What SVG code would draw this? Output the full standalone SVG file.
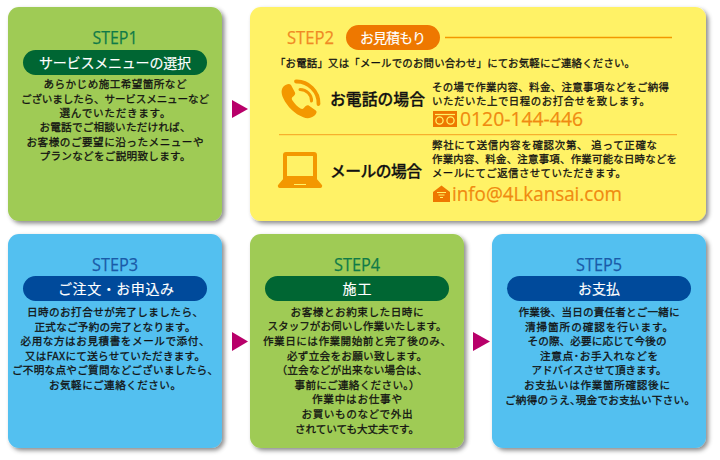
<svg xmlns="http://www.w3.org/2000/svg" width="720" height="460" viewBox="0 0 720 460">
<style>
.jp{font-family:"Noto Sans CJK JP","Noto Sans",sans-serif}
.body{font-size:10.6px;text-anchor:middle;fill:#111;stroke:#111;stroke-width:.28px}
.det{font-size:10.4px;fill:#111;stroke:#111;stroke-width:.28px}
.step{font-family:"Open Sans",sans-serif;font-size:19px;text-anchor:middle;stroke-width:.25px}
.pilltxt{font-size:14px;fill:#fff;text-anchor:middle;stroke:#fff;stroke-width:.15px}
.head{font-size:15.8px;fill:#111;font-weight:500;stroke:#111;stroke-width:.3px}
.big{font-family:"Open Sans",sans-serif;fill:#f08a10;stroke:#f08a10;stroke-width:.2px;font-size:20px}
.green{fill:#9fcb55}.blue{fill:#53c0f0}.yellow{fill:#fff266}
.dg{fill:#006633}.db{fill:#004a9b}
.tg{fill:#0f7a48;stroke:#0f7a48}.tb{fill:#1a5aa8;stroke:#1a5aa8}
.ic{fill:#f39800}
</style>
<defs>
<filter id="sh" x="-10%" y="-10%" width="125%" height="125%">
<feDropShadow dx="2.5" dy="2.5" stdDeviation="2.2" flood-color="#000" flood-opacity=".45"/>
</filter>
</defs>
<rect width="720" height="460" fill="#fff"/>

<g id="step1">
<rect class="green" x="8" y="7" width="214" height="214" rx="11" filter="url(#sh)"/>
<text class="step tg" x="115" y="44" textLength="45" lengthAdjust="spacingAndGlyphs">STEP1</text>
<rect class="dg" x="23" y="50" width="184" height="25" rx="12.500"/>
<text class="jp pilltxt" x="115" y="68" textLength="152">サービスメニューの選択</text>
<g class="jp body">
<text x="115" y="88" textLength="143">あらかじめ施工希望箇所など</text>
<text x="115" y="102.500" textLength="188">ございましたら、サービスメニューなど</text>
<text x="115" y="117" textLength="111">選んでいただきます。</text>
<text x="115" y="131" textLength="151">お電話でご相談いただければ、</text>
<text x="115" y="145.500" textLength="177">お客様のご要望に沿ったメニューや</text>
<text x="115" y="160" textLength="151">プランなどをご説明致します。</text>
</g>
</g>

<g id="step2">
<rect class="yellow" x="250" y="7" width="456" height="214" rx="11" filter="url(#sh)"/>
<text class="step" x="310.500" y="44" fill="#f08a24" stroke="#f08a24" textLength="47" lengthAdjust="spacingAndGlyphs">STEP2</text>
<rect x="346" y="25" width="94" height="25" rx="12.500" fill="#ee7800"/>
<text class="jp pilltxt" x="393" y="43" textLength="66">お見積もり</text>
<path d="M445 37.500H672" stroke="#f39800" stroke-width="1.500" fill="none"/>
<text class="jp det" x="275" y="67" textLength="360" lengthAdjust="spacing">「お電話」又は「メールでのお問い合わせ」にてお気軽にご連絡ください。</text>

<g id="phone-icon" class="ic">
<path d="M283.500 86.500c2.500-2.500 6-3.500 7.500-1.500l4 7.500c.8 1.500-.5 3-2.500 4.500-1 .8-1 2 0 3.500 2.500 3.800 5 6 8 8 1.500.8 2.500.5 3.300-.5 1.500-2 3.500-3.500 5-2.500l7 5c1.500 1 .8 3.500-1.500 5.300-3.500 2.800-7.500 3-11 1.500-8.500-3.200-16-10.500-20-19-2.200-5-2.500-9 .7-12.300z"/>
<path d="M296 81.500c12-.5 23 10 22.500 22.500" fill="none" stroke="#f39800" stroke-width="3.800" stroke-linecap="round"/>
<path d="M300 89.500c6.500 0 12 5.500 11.500 11.500" fill="none" stroke="#f39800" stroke-width="3" stroke-linecap="round"/>
</g>
<text class="jp head" x="330" y="105" textLength="95" lengthAdjust="spacing">お電話の場合</text>
<text class="jp det" x="432" y="91" textLength="237" lengthAdjust="spacing">その場で作業内容、料金、注意事項などをご納得</text>
<text class="jp det" x="432" y="105" textLength="218" lengthAdjust="spacing">いただいた上で日程のお打合せを致します。</text>
<g id="freedial-icon">
<rect x="433" y="111" width="24" height="16" fill="#ee7800"/>
<path d="M435 114.500H455" stroke="#fff266" stroke-width="1.200"/>
<circle cx="439.500" cy="120.500" r="3.600" fill="none" stroke="#fff266" stroke-width="1.300"/>
<circle cx="450.500" cy="120.500" r="3.600" fill="none" stroke="#fff266" stroke-width="1.300"/>
</g>
<text class="big" x="460" y="126" textLength="123" lengthAdjust="spacingAndGlyphs">0120-144-446</text>
<path d="M279 134.700H677" stroke="#f5a020" stroke-width="1" fill="none"/>

<g id="laptop-icon" class="ic">
<path fill-rule="evenodd" d="M286 152h28a3 3 0 0 1 3 3v25h-34v-25a3 3 0 0 1 3-3zM287 156v20h26v-20z"/>
<path d="M284 178h32l5.500 6.500a2 2 0 0 1-1.500 3.500h-40a2 2 0 0 1-1.500-3.500z"/>
<path d="M294 184.500h12" stroke="#fff266" stroke-width="1" fill="none"/>
</g>
<text class="jp head" x="330" y="177" textLength="92" lengthAdjust="spacing">メールの場合</text>
<text class="jp det" x="432" y="149" textLength="225" lengthAdjust="spacing">弊社にて送信内容を確認次第、 追って正確な</text>
<text class="jp det" x="432" y="163" textLength="245" lengthAdjust="spacing">作業内容、料金、注意事項、作業可能な日時などを</text>
<text class="jp det" x="432" y="177" textLength="194" lengthAdjust="spacing">メールにてご返信させていただきます。</text>
<g id="mail-icon">
<path d="M433 192l8.500-6.500 8.500 6.500v10h-17z" fill="#ee7800"/>
<path d="M437 192.500h9M438.500 195h6M440 197.500h3" stroke="#fff266" stroke-width="1" fill="none"/>
</g>
<text class="big" x="452" y="201" textLength="170" lengthAdjust="spacingAndGlyphs">info@4Lkansai.com</text>
</g>

<g id="step3">
<rect class="blue" x="8" y="234" width="214" height="214" rx="11" filter="url(#sh)"/>
<text class="step tb" x="115" y="271" textLength="46" lengthAdjust="spacingAndGlyphs">STEP3</text>
<rect class="db" x="23" y="276" width="184" height="25" rx="12.500"/>
<text class="jp pilltxt" x="116" y="294" textLength="116">ご注文・お申込み</text>
<g class="jp body">
<text x="115" y="316" textLength="176">日時のお打合せが完了しましたら、</text>
<text x="115" y="330.500" textLength="161">正式なご予約の完了となります。</text>
<text x="115" y="345" textLength="189">必用な方はお見積書をメールで添付、</text>
<text x="115" y="359.500" textLength="180">又はFAXにて送らせていただきます。</text>
<text x="115" y="374" textLength="206">ご不明な点やご質問などございましたら、</text>
<text x="115" y="388.500" textLength="132">お気軽にご連絡ください。</text>
</g>
</g>

<g id="step4">
<rect class="green" x="250" y="234" width="214" height="214" rx="11" filter="url(#sh)"/>
<text class="step tg" x="357" y="271" textLength="46" lengthAdjust="spacingAndGlyphs">STEP4</text>
<rect class="dg" x="265" y="276" width="184" height="25" rx="12.500"/>
<text class="jp pilltxt" x="357" y="294" textLength="29">施工</text>
<g class="jp body">
<text x="357" y="315.500" textLength="133">お客様とお約束した日時に</text>
<text x="357" y="330" textLength="179">スタッフがお伺いし作業いたします。</text>
<text x="357" y="345" textLength="188">作業日には作業開始前と完了後のみ、</text>
<text x="357" y="359.500" textLength="140">必ず立会をお願い致します。</text>
<text x="352" y="374" textLength="151">（立会などが出来ない場合は、</text>
<text x="357" y="388.500" textLength="125">事前にご連絡ください。）</text>
<text x="357" y="403" textLength="90">作業中はお仕事や</text>
<text x="357" y="418" textLength="111">お買いものなどで外出</text>
<text x="357" y="432.500" textLength="124">されていても大丈夫です。</text>
</g>
</g>

<g id="step5">
<rect class="blue" x="492" y="234" width="214" height="214" rx="11" filter="url(#sh)"/>
<text class="step tb" x="599" y="271" textLength="46" lengthAdjust="spacingAndGlyphs">STEP5</text>
<rect class="db" x="507" y="276" width="184" height="25" rx="12.500"/>
<text class="jp pilltxt" x="599" y="294" textLength="42">お支払</text>
<g class="jp body">
<text x="599" y="316" textLength="161">作業後、当日の責任者とご一緒に</text>
<text x="599" y="330.500" textLength="148">清掃箇所の確認を行います。</text>
<text x="597" y="345" textLength="139">その際、必要に応じて今後の</text>
<text x="599" y="359.500" textLength="118">注意点･お手入れなどを</text>
<text x="599" y="374" textLength="135">アドバイスさせて頂きます。</text>
<text x="597" y="389" textLength="146">お支払いは作業箇所確認後に</text>
<text x="600" y="403.500" textLength="190">ご納得のうえ､現金でお支払い下さい。</text>
</g>
</g>

<g id="connectors" fill="#b8006a">
<polygon points="232,100 248,109 232,118"/>
<polygon points="232,332 248,341.500 232,351"/>
<polygon points="473,332 490,341.500 473,351"/>
</g>
</svg>
